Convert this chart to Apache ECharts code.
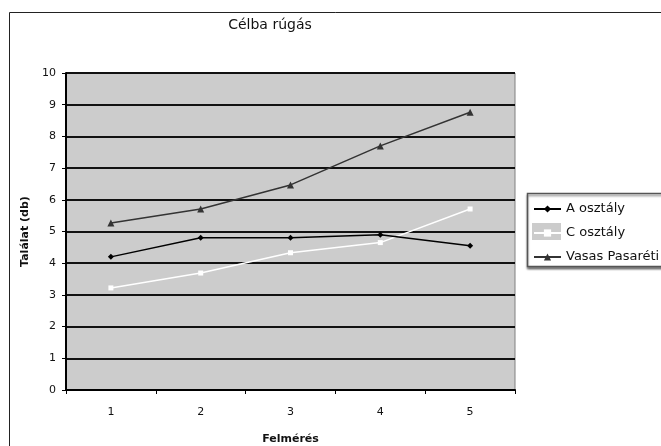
<!DOCTYPE html>
<html>
<head>
<meta charset="utf-8">
<title>Célba rúgás</title>
<script src="https://cdn.jsdelivr.net/npm/echarts@6/dist/echarts.min.js"></script>
<style>
  html, body { margin: 0; padding: 0; background: #fff; }
  #chart { width: 661px; height: 446px; }
</style>
</head>
<body>
<div id="chart"></div>
<script>
// adatok
var felmeres = ['1', '2', '3', '4', '5'];
var aOsztaly = [4.2, 4.8, 4.8, 4.9, 4.55];
var cOsztaly = [3.22, 3.69, 4.33, 4.65, 5.71];
var vasas = [5.27, 5.71, 6.47, 7.7, 8.76];
var seriesNames = ['A osztály', 'C osztály', 'Vasas Pasaréti'];

var FONT = '"DejaVu Sans", sans-serif';
var myChart = echarts.init(document.getElementById('chart'));

myChart.setOption({
    backgroundColor: '#fff',
    animation: false,
    title: {
        text: 'Célba rúgás',
        left: 265,
        top: 13,
        textAlign: 'center',
        textStyle: { fontFamily: FONT, fontSize: 14, fontWeight: 'normal', color: '#111' }
    },
    grid: {
        left: 66, right: 146, top: 73, bottom: 56,
        containLabel: false,
        outerBoundsMode: 'none',
        show: true,
        backgroundColor: '#cccccc',
        borderColor: '#808080',
        borderWidth: 1
    },
    legend: {
        orient: 'vertical',
        left: 533,
        top: 201,
        padding: 0,
        itemWidth: 27,
        itemHeight: 9,
        itemGap: 8,
        data: seriesNames,
        textStyle: { fontFamily: FONT, fontSize: 13, color: '#111', lineHeight: 16 }
    },
    xAxis: {
        type: 'category',
        data: felmeres,
        boundaryGap: true,
        name: 'Felmérés',
        nameLocation: 'middle',
        nameGap: 44,
        nameTextStyle: { fontFamily: FONT, fontSize: 11, fontWeight: 'bold', color: '#111' },
        axisLine: { lineStyle: { color: '#000', width: 2 } },
        axisTick: { show: true, inside: false, length: 4, lineStyle: { color: '#000' } },
        axisLabel: { fontFamily: FONT, fontSize: 11, color: '#111', margin: 17 },
        splitLine: { show: false }
    },
    yAxis: {
        type: 'value',
        min: 0,
        max: 10,
        interval: 1,
        name: 'Találat (db)',
        nameLocation: 'middle',
        nameGap: 34,
        nameTextStyle: { fontFamily: FONT, fontSize: 11, fontWeight: 'bold', color: '#111' },
        axisLine: { show: true, lineStyle: { color: '#000', width: 2 } },
        axisTick: { show: true, inside: false, length: 4, lineStyle: { color: '#000' } },
        axisLabel: { fontFamily: FONT, fontSize: 11, color: '#111', margin: 10 },
        splitLine: { show: true, lineStyle: { color: '#111', width: 2 } }
    },
    graphic: [
        // külső keret
        { type: 'rect', shape: { x: 9.5, y: 12.5, width: 700, height: 500 },
          style: { fill: 'none', stroke: '#222', lineWidth: 1 }, z: -1 },
        // jelmagyarázat doboz
        { type: 'rect', shape: { x: 527.5, y: 193.5, width: 200, height: 73 },
          style: { fill: '#fff', stroke: '#555', lineWidth: 1.5,
                   shadowColor: 'rgba(0,0,0,0.45)', shadowOffsetX: 0, shadowOffsetY: 2, shadowBlur: 2 }, z: 0 },
        // C osztály ikon háttere
        { type: 'rect', shape: { x: 532, y: 223, width: 29, height: 17 },
          style: { fill: '#cccccc' }, z: 1 }
    ],
    series: [
        {
            name: seriesNames[0], type: 'line', data: aOsztaly,
            symbol: 'diamond', symbolSize: 6,
            itemStyle: { color: '#000' },
            lineStyle: { color: '#000', width: 1.5 },
            z: 5
        },
        {
            name: seriesNames[1], type: 'line', data: cOsztaly,
            symbol: 'rect', symbolSize: 5,
            itemStyle: { color: '#fff' },
            lineStyle: { color: '#fff', width: 1.5 },
            z: 4
        },
        {
            name: seriesNames[2], type: 'line', data: vasas,
            symbol: 'triangle', symbolSize: 7,
            itemStyle: { color: '#333' },
            lineStyle: { color: '#333', width: 1.5 },
            z: 3
        }
    ]
});
</script>
</body>
</html>
